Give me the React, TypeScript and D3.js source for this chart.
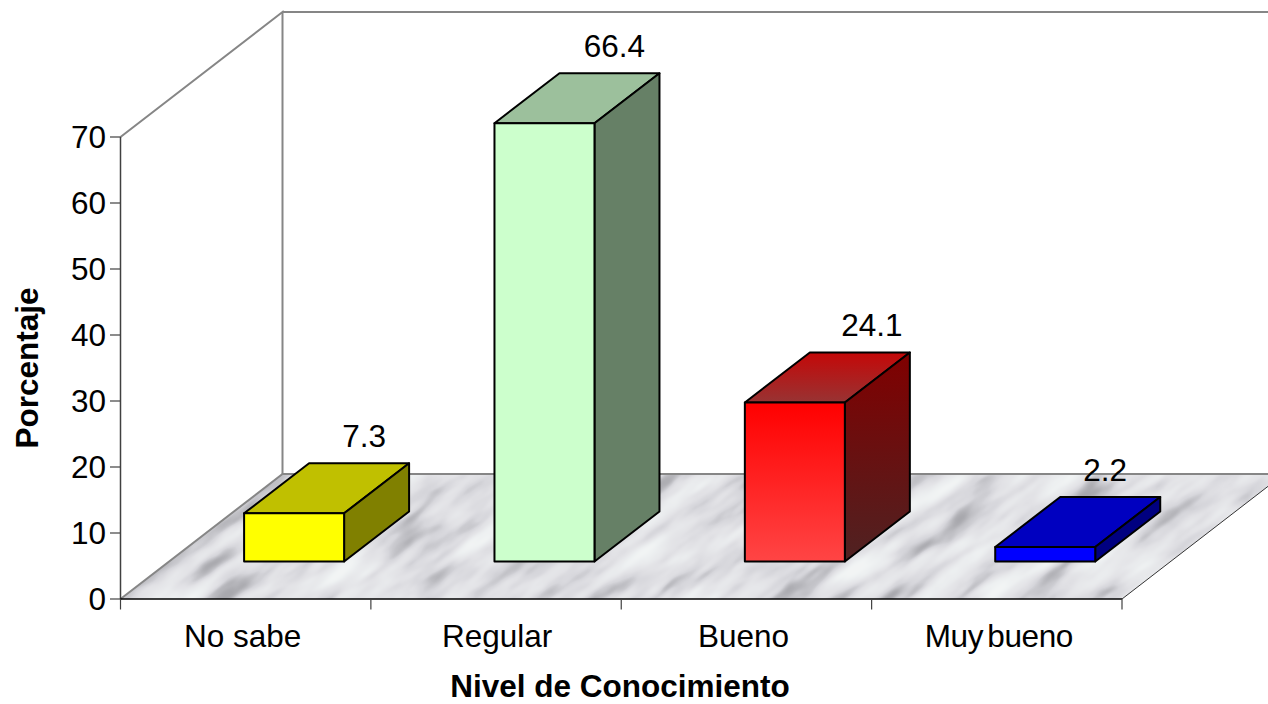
import React from "react";
import * as d3 from "d3";

const categories = ["No sabe", "Regular", "Bueno", "Muy bueno"];
const percentages = [7.3, 66.4, 24.1, 2.2];
const frontColors = ["#ffff00", "#ccffcc", "url(#redFront)", "#0000ff"];
const topColors = ["#c0c000", "#9cc09c", "url(#redTop)", "#0000c0"];
const sideColors = ["#808000", "#668066", "url(#redSide)", "#000080"];
const yTicks = [0, 10, 20, 30, 40, 50, 60, 70];
const labelShift = [5, 5, 12, -5];
const categoryShift = [-3, 1, -3, 2];
const categoryWordGap = [0, 0, 0, -4];
const categoryLetterGap = [0, 0, 0, -0.4];

const WIDTH = 1268;
const HEIGHT = 704;
const FONT = "'Liberation Sans', Arial, sans-serif";
const FONT_SIZE = 31.5;

// Oblique offsets of the chart box and of each bar
const BOX_DX = 162;
const BOX_DY = -125;
const BAR_DX = 65;
const BAR_DY = -50;
const BAR_WIDTH = 100;
const BAR_INSET = 123.6;
const BASE_LIFT = 37.5;

const x = d3.scaleBand<string>().domain(categories).range([120.5, 1122]);
const y = d3.scaleLinear().domain([0, 70]).range([599, 137]);

const poly = (pts: [number, number][]) => (d3.line()(pts) ?? "") + "Z";

export default function App() {
  const left = x.range()[0];
  const right = x.range()[1];
  const base = y(0);
  const top = y(70);
  const floor: [number, number][] = [
    [left, base],
    [left + BOX_DX, base + BOX_DY],
    [right + BOX_DX, base + BOX_DY],
    [right, base],
  ];

  return (
    <svg
      width={WIDTH}
      height={HEIGHT}
      viewBox={`0 0 ${WIDTH} ${HEIGHT}`}
      style={{ position: "fixed", left: 0, top: 0, background: "#fff" }}
      fontFamily={FONT}
    >
      <defs>
        <linearGradient id="redFront" x1="0" y1="0" x2="0" y2="1">
          <stop offset="0" stopColor="#ff0000" />
          <stop offset="1" stopColor="#ff4545" />
        </linearGradient>
        <linearGradient id="redTop" x1="0" y1="0" x2="0" y2="1">
          <stop offset="0" stopColor="#c40808" />
          <stop offset="1" stopColor="#983333" />
        </linearGradient>
        <linearGradient id="redSide" x1="0" y1="0" x2="0" y2="1">
          <stop offset="0" stopColor="#800000" />
          <stop offset="1" stopColor="#4f2222" />
        </linearGradient>
        <filter id="marble" x="0" y="0" width="100%" height="100%" colorInterpolationFilters="sRGB">
          <feTurbulence type="fractalNoise" baseFrequency="0.011 0.05" numOctaves={4} seed={11} />
          <feColorMatrix
            type="matrix"
            values="1.1 1.1 0 0 -0.6  1.1 1.1 0 0 -0.6  1.1 1.1 0 0 -0.6  0 0 0 0 1"
          />
          <feGaussianBlur stdDeviation="1.6" />
          <feComponentTransfer>
            <feFuncR type="table" tableValues="0.66 0.75 0.84 0.885 0.91 0.93 0.95" />
            <feFuncG type="table" tableValues="0.66 0.75 0.84 0.885 0.915 0.94 0.96" />
            <feFuncB type="table" tableValues="0.68 0.77 0.86 0.9 0.925 0.945 0.96" />
          </feComponentTransfer>
        </filter>
        <clipPath id="floorClip">
          <path d={poly(floor)} />
        </clipPath>
      </defs>

      {/* Marble floor, grain running along the depth diagonal */}
      <g clipPath="url(#floorClip)">
        <rect
          x={-400}
          y={-300}
          width={2100}
          height={1600}
          filter="url(#marble)"
          transform={`rotate(-35 ${(left + right) / 2} ${base})`}
        />
      </g>

      {/* Walls and floor outline */}
      <g fill="none" stroke="#868686" strokeWidth={2}>
        <path d={`M${left},${top}L${left + BOX_DX},${top + BOX_DY}V${base + BOX_DY}`} />
        <path d={`M${left + BOX_DX},${top + BOX_DY}H${WIDTH}`} />
        <path d={`M${left},${base}L${left + BOX_DX},${base + BOX_DY}H${WIDTH}`} />
      </g>
      <path
        d={`M${right},${base}L${right + BOX_DX},${base + BOX_DY}`}
        fill="none"
        stroke="#333"
        strokeWidth={1}
      />

      {/* Value axis */}
      <g>
        <line x1={left} x2={left} y1={top} y2={base} stroke="#404040" strokeWidth={1.5} />
        {yTicks.map((t) => (
          <g key={t}>
            <line x1={left - 10.5} x2={left} y1={y(t)} y2={y(t)} stroke="#404040" strokeWidth={1.2} />
            <text x={106} y={y(t) + 11} textAnchor="end" fontSize={FONT_SIZE} fill="#000">
              {t}
            </text>
          </g>
        ))}
      </g>

      {/* Category axis */}
      <g>
        <line x1={left} x2={right} y1={base} y2={base} stroke="#000" strokeWidth={1.3} />
        {[...categories.map((c) => x(c) as number), right].map((px) => (
          <line key={px} x1={px} x2={px} y1={base} y2={base + 10.5} stroke="#404040" strokeWidth={1.2} />
        ))}
        {categories.map((c, i) => (
          <text
            key={c}
            x={(x(c) as number) + x.bandwidth() / 2 + categoryShift[i]}
            y={647}
            textAnchor="middle"
            fontSize={FONT_SIZE}
            wordSpacing={categoryWordGap[i]}
            letterSpacing={categoryLetterGap[i]}
            fill="#000"
          >
            {c}
          </text>
        ))}
      </g>

      {/* Bars: front, top and side faces */}
      <g stroke="#000" strokeWidth={2} strokeLinejoin="round">
        {categories.map((c, i) => {
          const x0 = (x(c) as number) + BAR_INSET;
          const x1 = x0 + BAR_WIDTH;
          const y0 = y(percentages[i]) - BASE_LIFT;
          const y1 = base - BASE_LIFT;
          return (
            <g key={c}>
              <path
                d={poly([
                  [x0, y0],
                  [x0 + BAR_DX, y0 + BAR_DY],
                  [x1 + BAR_DX, y0 + BAR_DY],
                  [x1, y0],
                ])}
                fill={topColors[i]}
              />
              <path
                d={poly([
                  [x1, y0],
                  [x1 + BAR_DX, y0 + BAR_DY],
                  [x1 + BAR_DX, y1 + BAR_DY],
                  [x1, y1],
                ])}
                fill={sideColors[i]}
              />
              <path
                d={poly([
                  [x0, y0],
                  [x1, y0],
                  [x1, y1],
                  [x0, y1],
                ])}
                fill={frontColors[i]}
              />
            </g>
          );
        })}
      </g>

      {/* Value labels above each bar */}
      {categories.map((c, i) => (
        <text
          key={c}
          x={(x(c) as number) + BAR_INSET + BAR_WIDTH / 2 + BAR_DX + labelShift[i]}
          y={y(percentages[i]) - BASE_LIFT + BAR_DY - 16}
          textAnchor="middle"
          fontSize={FONT_SIZE}
          fill="#000"
        >
          {percentages[i].toFixed(1)}
        </text>
      ))}

      {/* Axis titles */}
      <text x={620} y={697} textAnchor="middle" fontSize={FONT_SIZE} fontWeight="bold" fill="#000">
        Nivel de Conocimiento
      </text>
      <text
        transform="translate(38,368) rotate(-90)"
        textAnchor="middle"
        fontSize={FONT_SIZE}
        fontWeight="bold"
        fill="#000"
      >
        Porcentaje
      </text>
    </svg>
  );
}
